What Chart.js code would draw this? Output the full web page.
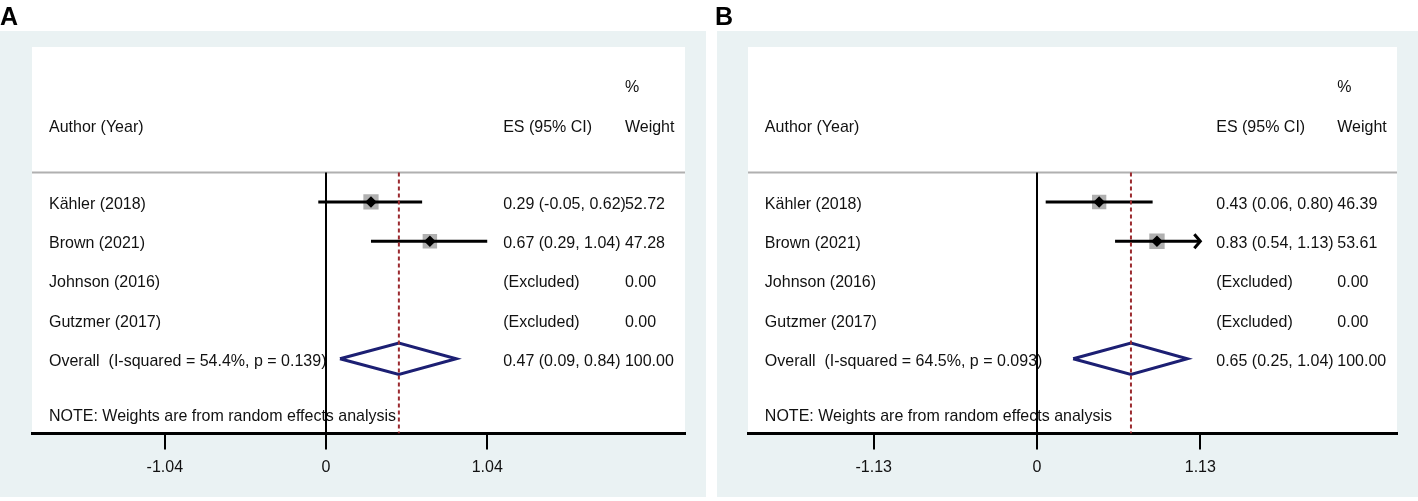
<!DOCTYPE html>
<html>
<head>
<meta charset="utf-8">
<script src="https://cdn.jsdelivr.net/npm/chart.js@4.4.1/dist/chart.umd.min.js"></script>
<style>
    html, body { margin: 0; padding: 0; background: #fff; }
    #wrap { position: relative; width: 1418px; height: 501px; }
    canvas { position: absolute; top: 0; }
</style>
</head>
<body>
<div id="wrap">
    <canvas id="panelA" width="709" height="501" style="left:0;width:709px;height:501px"></canvas>
    <canvas id="panelB" width="709" height="501" style="left:709px;width:709px;height:501px"></canvas>
</div>
<script>
const studies = ['Kähler (2018)', 'Brown (2021)', 'Johnson (2016)', 'Gutzmer (2017)'];

// panel A - estimates, 95% CI and weights (null = excluded)
const esA = [0.29, 0.67, null, null];
const lowA = [-0.05, 0.29, null, null];
const highA = [0.62, 1.04, null, null];
const weightA = [52.72, 47.28, 0, 0];
const arrowA = [false, false, false, false];
const overallA = [0.47, 0.09, 0.84];
const hetA = [54.4, 0.139];
const ticksA = [-1.04, 0, 1.04];

// panel B
const esB = [0.43, 0.83, null, null];
const lowB = [0.06, 0.54, null, null];
const highB = [0.80, 1.13, null, null];
const weightB = [46.39, 53.61, 0, 0];
const arrowB = [false, true, false, false];
const overallB = [0.65, 0.25, 1.04];
const hetB = [64.5, 0.093];
const ticksB = [-1.13, 0, 1.13];

const FONT = '"Liberation Sans", Arial, sans-serif';
const TEXT = '#111';
const Y_MIN = -2.954, Y_MAX = 6.906, SEP_ROW = 0.247;
const OVERALL_ROW = studies.length + 1;

function boxRadius(w) {
    // area of the box follows the weight
    return 2.1 * Math.sqrt(w) / Math.SQRT2;
}

function buildDatasets(es, low, high, weight, overall) {
    const sets = [];
    sets.push({
        data: [{ x: 0, y: SEP_ROW }, { x: 0, y: Y_MAX }],
        showLine: true, borderColor: '#000', borderWidth: 2, pointRadius: 0, order: 2
    });
    sets.push({
        data: [{ x: overall[0], y: SEP_ROW }, { x: overall[0], y: Y_MAX }],
        showLine: true, borderColor: '#9b2a2f', borderWidth: 2, borderDash: [4, 3], pointRadius: 0, order: 1
    });
    es.forEach((v, i) => {
        if (v === null) return;
        sets.push({
            data: [{ x: low[i], y: i + 1 }, { x: high[i], y: i + 1 }],
            showLine: true, borderColor: '#000', borderWidth: 3, pointRadius: 0, order: 4
        });
    });
    const pts = [];
    es.forEach((v, i) => { if (v !== null) pts.push({ x: v, y: i + 1, w: weight[i] }); });
    sets.push({
        data: pts, pointStyle: 'rect', backgroundColor: '#b0b0b0', borderWidth: 0,
        pointRadius: c => boxRadius(c.raw.w), order: 5
    });
    sets.push({
        data: pts, pointStyle: 'rectRot', backgroundColor: '#000', borderWidth: 0,
        pointRadius: 5.8, order: 3
    });
    const h = 0.4;
    sets.push({
        data: [
            { x: overall[1], y: OVERALL_ROW }, { x: overall[0], y: OVERALL_ROW - h },
            { x: overall[2], y: OVERALL_ROW }, { x: overall[0], y: OVERALL_ROW + h },
            { x: overall[1], y: OVERALL_ROW }
        ],
        showLine: true, borderColor: '#1c1f73', borderWidth: 3, borderJoinStyle: 'miter',
        pointRadius: 0, fill: false, order: 3
    });
    return sets;
}

// text in the picture is a little taller than the font metrics give
function drawText(ctx, s, x, y) {
    ctx.save();
    ctx.translate(x, y);
    ctx.scale(1, 1.05);
    ctx.fillText(s, 0, 0);
    ctx.restore();
}

function panelPlugin(p) {
    return {
        id: 'panel' + p.letter,
        beforeDraw(chart) {
            const { ctx, chartArea: a, width, height } = chart;
            ctx.save();
            ctx.fillStyle = '#fff';
            ctx.fillRect(0, 0, width, height);
            ctx.fillStyle = '#eaf2f3';
            ctx.fillRect(p.bgLeft, 31, p.bgRight - p.bgLeft, 466);
            ctx.fillStyle = '#fff';
            ctx.fillRect(a.left, a.top, a.right - a.left, a.bottom - a.top);
            ctx.fillStyle = '#000';
            ctx.font = 'bold 25px ' + FONT;
            ctx.textBaseline = 'alphabetic';
            ctx.fillText(p.letter, p.letterX, 25);
            ctx.restore();
        },
        beforeDatasetsDraw(chart) {
            const { ctx, chartArea: a } = chart;
            const ys = chart.scales.y;
            const col = f => a.left + f * (a.right - a.left);
            const row = r => ys.getPixelForValue(r) + 7;
            ctx.save();
            // header separator
            ctx.strokeStyle = '#b0b0b0';
            ctx.lineWidth = 2;
            ctx.beginPath();
            ctx.moveTo(a.left, ys.getPixelForValue(SEP_ROW));
            ctx.lineTo(a.right, ys.getPixelForValue(SEP_ROW));
            ctx.stroke();

            ctx.font = '16px ' + FONT;
            ctx.fillStyle = TEXT;
            ctx.textBaseline = 'alphabetic';
            ctx.textAlign = 'left';
            drawText(ctx, '%', col(0.908), row(-1.98));
            drawText(ctx, 'Author (Year)', col(0.026), row(-0.96));
            drawText(ctx, 'ES (95% CI)', col(0.7215), row(-0.96));
            drawText(ctx, 'Weight', col(0.908), row(-0.96));

            studies.forEach((s, i) => {
                const r = row(i + 1);
                drawText(ctx, s, col(0.026), r);
                const es = p.es[i] === null ? '(Excluded)'
                    : `${p.es[i].toFixed(2)} (${p.low[i].toFixed(2)}, ${p.high[i].toFixed(2)})`;
                drawText(ctx, es, col(0.7215), r);
                drawText(ctx, p.weight[i].toFixed(2), col(0.908), r);
            });
            const total = p.weight.reduce((t, w) => t + w, 0);
            const ro = row(OVERALL_ROW);
            drawText(ctx, `Overall  (I-squared = ${p.het[0].toFixed(1)}%, p = ${p.het[1].toFixed(3)})`, col(0.026), ro);
            drawText(ctx, `${p.overall[0].toFixed(2)} (${p.overall[1].toFixed(2)}, ${p.overall[2].toFixed(2)})`, col(0.7215), ro);
            drawText(ctx, total.toFixed(2), col(0.908), ro);
            drawText(ctx, 'NOTE: Weights are from random effects analysis', col(0.026), row(6.41));
            ctx.restore();
        },
        afterDatasetsDraw(chart) {
            const { ctx } = chart;
            const xs = chart.scales.x, ys = chart.scales.y;
            ctx.save();
            ctx.strokeStyle = '#000';
            ctx.lineWidth = 3;
            ctx.lineJoin = 'miter';
            p.arrow.forEach((on, i) => {
                if (!on) return;
                const px = xs.getPixelForValue(p.high[i]);
                const py = ys.getPixelForValue(i + 1);
                ctx.beginPath();
                ctx.moveTo(px - 6, py - 7);
                ctx.lineTo(px, py);
                ctx.lineTo(px - 6, py + 7);
                ctx.stroke();
            });
            ctx.restore();
        }
    };
}

function makePanel(id, p) {
    const ctx = document.getElementById(id).getContext('2d');
    return new Chart(ctx, {
        type: 'scatter',
        data: { datasets: buildDatasets(p.es, p.low, p.high, p.weight, p.overall) },
        options: {
            responsive: false,
            animation: false,
            events: [],
            layout: { padding: { left: p.padLeft, right: p.padRight, top: 47, bottom: 0 } },
            plugins: { legend: { display: false }, tooltip: { enabled: false } },
            scales: {
                x: {
                    type: 'linear', min: p.xMin, max: p.xMax,
                    afterBuildTicks: s => { s.ticks = p.ticks.map(v => ({ value: v })); },
                    afterFit: s => { s.height = 67.5; },
                    ticks: {
                        callback: v => String(v), color: TEXT, padding: 8,
                        font: { family: FONT, size: 16 }, maxRotation: 0, autoSkip: false
                    },
                    grid: { drawOnChartArea: false, drawTicks: true, tickLength: 16, color: '#000', lineWidth: 2 },
                    border: { display: true, color: '#000', width: 3 }
                },
                y: { type: 'linear', display: false, reverse: true, min: Y_MIN, max: Y_MAX }
            }
        },
        plugins: [panelPlugin(p)]
    });
}

makePanel('panelA', {
    letter: 'A', letterX: 0, bgLeft: 0, bgRight: 706, padLeft: 32, padRight: 24,
    xMin: -1.897, xMax: 2.316, ticks: ticksA,
    es: esA, low: lowA, high: highA, weight: weightA, arrow: arrowA, overall: overallA, het: hetA
});
makePanel('panelB', {
    letter: 'B', letterX: 6, bgLeft: 8, bgRight: 709, padLeft: 39, padRight: 21,
    xMin: -2.0, xMax: 2.491, ticks: ticksB,
    es: esB, low: lowB, high: highB, weight: weightB, arrow: arrowB, overall: overallB, het: hetB
});
</script>
</body>
</html>
